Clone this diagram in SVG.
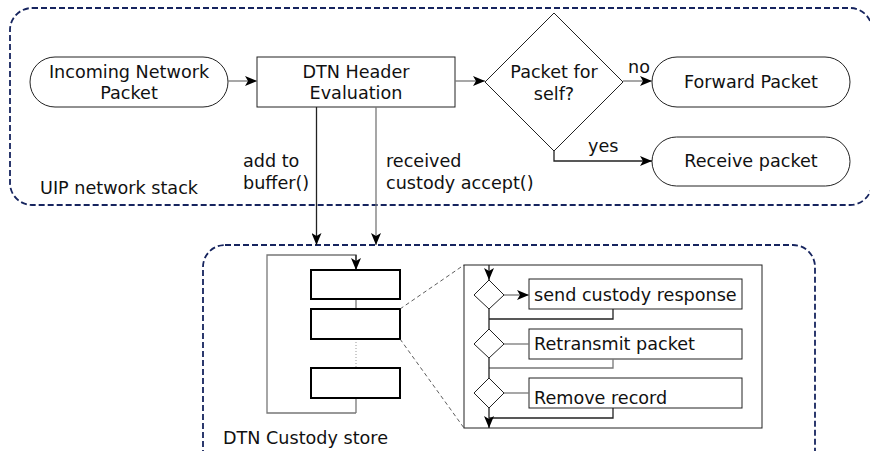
<svg xmlns="http://www.w3.org/2000/svg" width="870" height="451" viewBox="0 0 870 451">
<defs>
<style>
text{font-family:"DejaVu Sans","Liberation Sans",sans-serif;font-size:17.6px;fill:#111;}
.n{fill:#fff;stroke:#222;stroke-width:1;}
.c{fill:none;stroke:#222;stroke-width:1.3;}
.g{fill:none;stroke:#777;stroke-width:1.3;}
.grp{fill:none;stroke:#16245e;stroke-width:1.8;stroke-dasharray:6,3;}
.rec{fill:#fff;stroke:#000;stroke-width:2;}
.zoom{fill:none;stroke:#333;stroke-width:0.8;stroke-dasharray:4,3;}
</style>
<marker id="a" viewBox="0 0 12 10" refX="12" refY="5" markerWidth="12" markerHeight="10" markerUnits="userSpaceOnUse" orient="auto">
<path d="M0,0 L12,5 L0,10 L3,5 Z" fill="#000"/>
</marker>
</defs>
<g id="group-uip">
<rect class="grp" x="10" y="8" width="862" height="197" rx="22"/>
<text x="40" y="194">UIP network stack</text>
</g>
<g id="group-custody">
<rect class="grp" x="203" y="245" width="612" height="230" rx="22"/>
<text x="223" y="444">DTN Custody store</text>
</g>
<g id="incoming">
<rect class="n" x="30" y="57" width="198" height="50" rx="25"/>
<text x="129" y="78" text-anchor="middle">Incoming Network</text>
<text x="129" y="99" text-anchor="middle">Packet</text>
</g>
<g id="header">
<rect class="n" x="257" y="57" width="198" height="50"/>
<text x="356" y="78" text-anchor="middle">DTN Header</text>
<text x="356" y="99" text-anchor="middle">Evaluation</text>
</g>
<g id="decision">
<polygon class="n" points="554,13 623,82 554,151 485,82"/>
<text x="554" y="78" text-anchor="middle">Packet for</text>
<text x="554" y="100" text-anchor="middle">self?</text>
</g>
<g id="forward">
<rect class="n" x="652" y="57" width="198" height="50" rx="25"/>
<text x="751" y="88" text-anchor="middle">Forward Packet</text>
</g>
<g id="receive">
<rect class="n" x="652" y="137" width="198" height="49" rx="24.5"/>
<text x="751" y="167" text-anchor="middle">Receive packet</text>
</g>
<g id="store">
<path class="g" d="M356,413 H267 V255 H356 V270"/>
<path class="c" d="M356,255 V270" marker-end="url(#a)"/>
<line class="g" x1="356" y1="299" x2="356" y2="309"/>
<line x1="356" y1="339" x2="356" y2="368" stroke="#999" stroke-width="1" stroke-dasharray="1,2"/>
<line class="g" x1="356" y1="398" x2="356" y2="413"/>
<rect class="rec" x="311" y="270" width="89" height="29"/>
<rect class="rec" x="311" y="309" width="89" height="30"/>
<rect class="rec" x="311" y="368" width="89" height="30"/>
<line class="zoom" x1="400" y1="309" x2="464" y2="265"/>
<line class="zoom" x1="400" y1="339" x2="464" y2="428"/>
</g>
<g id="detail">
<rect class="n" x="464" y="265" width="298" height="163" stroke="#444"/>
<polygon class="n" points="489,280 504,295 489,309 474,295"/>
<polygon class="n" points="489,329 504,344 489,358 474,344"/>
<polygon class="n" points="489,378 504,393 489,408 474,393"/>
<rect class="n" x="529" y="279" width="213" height="30" stroke="#444"/>
<text x="534" y="301">send custody response</text>
<rect class="n" x="529" y="329" width="213" height="30" stroke="#777"/>
<text x="534" y="350">Retransmit packet</text>
<rect class="n" x="529" y="378" width="213" height="30" stroke="#444"/>
<text x="534" y="404">Remove record</text>
</g>
<g id="connectors">
<line class="g" x1="228" y1="81" x2="257" y2="81" marker-end="url(#a)"/>
<line class="g" x1="455" y1="81" x2="485" y2="81" marker-end="url(#a)"/>
<line class="g" x1="623" y1="81" x2="652" y2="81" marker-end="url(#a)"/>
<text x="628" y="73">no</text>
<path class="c" d="M554,151 V161 H652" marker-end="url(#a)"/>
<text x="588" y="152">yes</text>
<line class="c" x1="316.5" y1="107" x2="316.5" y2="245" marker-end="url(#a)"/>
<line class="g" x1="376" y1="107" x2="376" y2="245" marker-end="url(#a)"/>
<text x="243" y="167">add to</text>
<text x="243" y="189">buffer()</text>
<text x="386" y="167">received</text>
<text x="386" y="189">custody accept()</text>
<line class="c" x1="489" y1="265" x2="489" y2="280" marker-end="url(#a)"/>
<line class="g" x1="504" y1="295" x2="529" y2="295" marker-end="url(#a)"/>
<path class="c" d="M613,309 V319 H489"/>
<line class="c" x1="489" y1="309" x2="489" y2="329"/>
<line class="g" x1="504" y1="344" x2="529" y2="344"/>
<path class="g" d="M613,359 V368 H489"/>
<line class="c" x1="489" y1="358" x2="489" y2="378"/>
<line class="g" x1="504" y1="393" x2="529" y2="393"/>
<path class="c" d="M613,408 V418 H489"/>
<line class="c" x1="489" y1="408" x2="489" y2="428" marker-end="url(#a)"/>
</g>
</svg>
